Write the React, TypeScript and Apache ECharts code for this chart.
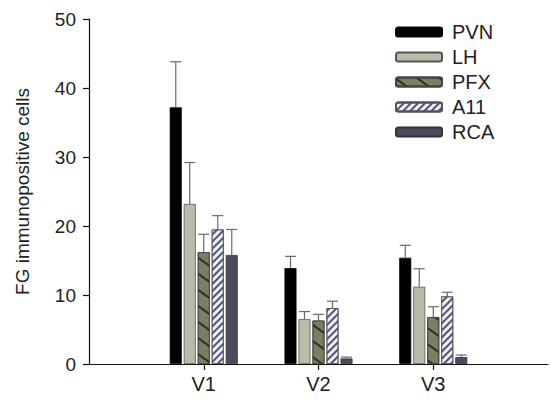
import React, { useEffect, useRef } from "react";
import * as echarts from "echarts";

const categories = ["", "V1", "V2", "V3", ""];
const seriesNames = ["PVN", "LH", "PFX", "A11", "RCA"];
const pvn = [37.2, 13.9, 15.4];
const lh = [23.2, 6.5, 11.2];
const pfx = [16.2, 6.3, 6.8];
const a11 = [19.5, 8.1, 9.8];
const rca = [15.8, 0.8, 1.0];
const pvnErr = [6.6, 1.7, 1.8];
const lhErr = [6.0, 1.1, 2.6];
const pfxErr = [2.6, 0.9, 1.5];
const a11Err = [2.0, 1.0, 0.6];
const rcaErr = [3.7, 0.2, 0.3];
const yTicks = [0, 10, 20, 30, 40, 50];

const FONT = "Liberation Sans, Arial, Helvetica, sans-serif";

export default function App() {
  const ref = useRef<HTMLDivElement>(null);
  useEffect(() => {
    if (!ref.current) return;
    const chart = echarts.init(ref.current, undefined, { renderer: "svg" });
    const values = [pvn, lh, pfx, a11, rca];
    const errs = [pvnErr, lhErr, pfxErr, a11Err, rcaErr];
    const styles: any[] = [
      { color: "#000000", borderColor: "#000000", borderWidth: 0.8 },
      { color: "#b9bcaa", borderColor: "#555555", borderWidth: 0.8 },
      {
        color: "#7b7e62",
        borderColor: "#444444",
        borderWidth: 0.8,
        decal: {
          symbol: "rect",
          symbolSize: 1,
          color: "#2e2e22",
          backgroundColor: "#7b7e62",
          dashArrayX: [1, 0],
          dashArrayY: [1.5, 11],
          rotation: Math.PI / 5,
        },
      },
      {
        color: "#eeeef6",
        borderColor: "#555555",
        borderWidth: 0.8,
        decal: {
          symbol: "rect",
          symbolSize: 1,
          color: "#4d5278",
          backgroundColor: "#eeeef6",
          dashArrayX: [1, 0],
          dashArrayY: [1.6, 2.2],
          rotation: -Math.PI / 4,
        },
      },
      { color: "#4a4b5d", borderColor: "#333333", borderWidth: 0.8 },
    ];
    const barSeries = seriesNames.map((name, i) => ({
      name,
      type: "bar",
      barWidth: 12,
      barGap: "16.7%",
      data: ["-", ...values[i], "-"],
      itemStyle: styles[i],
      z: 2,
    }));
    const errData: number[][] = [];
    seriesNames.forEach((_, s) => {
      values[s].forEach((v, c) => {
        errData.push([c + 1, s, v, errs[s][c]]);
      });
    });
    const option: any = {
      animation: false,
      backgroundColor: "#ffffff",
      grid: { left: 89, right: 0, top: 19, bottom: 39 },
      legend: {
        orient: "vertical",
        left: 390,
        top: 17,
        itemWidth: 46,
        itemHeight: 9,
        itemGap: 5,
        data: seriesNames,
        textStyle: {
          fontFamily: FONT,
          fontSize: 20,
          color: "#222222",
          lineHeight: 20,
          padding: [0, 0, 0, 5],
        },
      },
      xAxis: {
        type: "category",
        data: categories,
        boundaryGap: false,
        axisLine: { show: true, lineStyle: { color: "#111111", width: 1.2 } },
        axisTick: {
          show: true,
          length: 6,
          interval: (idx: number) => idx > 0 && idx < categories.length - 1,
          lineStyle: { color: "#111111", width: 1.2 },
        },
        axisLabel: {
          interval: 0,
          margin: 10,
          fontFamily: FONT,
          fontSize: 20,
          color: "#222222",
        },
        splitLine: { show: false },
      },
      yAxis: {
        type: "value",
        min: yTicks[0],
        max: yTicks[yTicks.length - 1],
        interval: 10,
        name: "FG immunopositive cells",
        nameLocation: "middle",
        nameGap: 57,
        nameRotate: 90,
        nameTextStyle: { fontFamily: FONT, fontSize: 19, color: "#222222" },
        axisLine: { show: true, lineStyle: { color: "#111111", width: 1.2 } },
        axisTick: { show: true, length: 6, lineStyle: { color: "#111111", width: 1.2 } },
        axisLabel: { margin: 13, fontFamily: FONT, fontSize: 19, color: "#222222" },
        splitLine: { show: false },
      },
      series: [
        ...barSeries,
        {
          type: "custom",
          name: "err",
          data: errData,
          encode: { x: 0, y: 2 },
          z: 5,
          silent: true,
          renderItem: (params: any, api: any) => {
            const c = api.value(0);
            const s = api.value(1);
            const v = api.value(2);
            const e = api.value(3);
            const base = api.coord([c, v]);
            const top = api.coord([c, v + e]);
            const x = base[0] + (s - 2) * 14;
            const style = { stroke: "#6a6a6a", lineWidth: 1.2 };
            return {
              type: "group",
              children: [
                { type: "line", shape: { x1: x, y1: base[1], x2: x, y2: top[1] }, style },
                { type: "line", shape: { x1: x - 5.5, y1: top[1], x2: x + 5.5, y2: top[1] }, style },
              ],
            };
          },
        },
      ],
    };
    chart.setOption(option);
    return () => chart.dispose();
  }, []);
  return (
    <div
      ref={ref}
      style={{ position: "fixed", left: 0, top: 0, width: 551, height: 403, background: "#fff" }}
    />
  );
}
